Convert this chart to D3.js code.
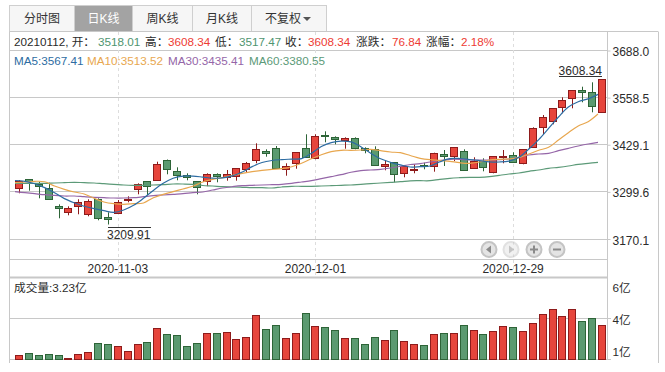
<!DOCTYPE html>
<html>
<head>
<meta charset="utf-8">
<script src="https://cdn.jsdelivr.net/npm/d3@7/dist/d3.min.js"></script>
<style>
html, body { margin: 0; padding: 0; background: #fff; }
svg { display: block; }
text { font-family: "Liberation Sans", "Noto Sans CJK SC", sans-serif; font-size: 11.7px; fill: #2b2b2b; }
</style>
</head>
<body>
<svg id="chart" width="665" height="372"></svg>
<script>
var tabNames = ['分时图', '日K线', '周K线', '月K线', '不复权'];

var dates = ['2020-10-20','2020-10-21','2020-10-22','2020-10-23','2020-10-26','2020-10-27','2020-10-28','2020-10-29','2020-10-30','2020-11-02',
  '2020-11-03','2020-11-04','2020-11-05','2020-11-06','2020-11-09','2020-11-10','2020-11-11','2020-11-12','2020-11-13','2020-11-16',
  '2020-11-17','2020-11-18','2020-11-19','2020-11-20','2020-11-23','2020-11-24','2020-11-25','2020-11-26','2020-11-27','2020-11-30',
  '2020-12-01','2020-12-02','2020-12-03','2020-12-04','2020-12-07','2020-12-08','2020-12-09','2020-12-10','2020-12-11','2020-12-14',
  '2020-12-15','2020-12-16','2020-12-17','2020-12-18','2020-12-21','2020-12-22','2020-12-23','2020-12-24','2020-12-25','2020-12-28',
  '2020-12-29','2020-12-30','2020-12-31','2021-01-04','2021-01-05','2021-01-06','2021-01-07','2021-01-08','2021-01-11','2021-01-12'];

var opens = [3309.4,3334.1,3319.3,3309.4,3259.9,3243.5,3259.9,3238,3279.2,3229.7,
  3240.7,3276.4,3306.6,3328.6,3331.4,3385.8,3356.1,3345.1,3328.6,3328.6,
  3347.9,3339.6,3342.4,3359.7,3385.2,3410,3419.3,3360.5,3376.2,3419.3,
  3391.8,3455,3449.5,3440.2,3446.8,3419.3,3416.5,3369.8,3380.8,3350.6,
  3359.7,3373.4,3369.8,3402.8,3397.3,3411,3364.3,3383.6,3353.4,3395.4,
  3400,3377,3422,3477,3493.5,3532,3556.7,3578.6,3573.2,3518.01];
var highs = [3332.2,3334.1,3327.5,3324.8,3265.4,3259.9,3279.2,3279.2,3281.9,3243.5,
  3277.2,3287.4,3323.1,3328.6,3382.5,3388.5,3367.1,3350.6,3328.6,3350.6,
  3350.6,3359.7,3364.3,3381.7,3433,3416.5,3425.6,3378.1,3408.3,3457.8,
  3457.8,3466,3452.3,3449.5,3449.5,3422,3424.8,3386.3,3380.8,3372.6,
  3375.3,3379.7,3407.2,3414.6,3422,3416.5,3394.6,3391.8,3396.2,3414.6,
  3408.3,3416.5,3477,3510.8,3529.2,3559.4,3578.6,3588.5,3600.6,3608.34];
var lows = [3295.7,3302.8,3281.9,3279.2,3227,3235.2,3238,3232.5,3221.5,3209.91,
  3240.7,3270.9,3292.9,3291,3331.4,3347.9,3331.4,3331.4,3292.9,3315.2,
  3325.9,3330.3,3330.3,3354.2,3378.1,3396.2,3364.3,3344,3363.2,3394.6,
  3389.1,3435.8,3430.3,3418.2,3416.5,3405.6,3372.6,3358.9,3325.9,3339.6,
  3350.6,3361.6,3355,3370.7,3384.4,3358.8,3362.4,3356.1,3350.6,3378.1,
  3380.8,3375.3,3422,3457.8,3485.2,3515.5,3529.2,3545.7,3518.2,3517.47];
var closes = [3327.5,3327.5,3314.9,3279.2,3254.4,3254.4,3270.9,3273.7,3227,3224.2,
  3270.9,3279.2,3320.4,3314.9,3375.3,3361.6,3345.1,3339.6,3312.2,3347.3,
  3341.5,3346.8,3364.3,3378.1,3416.5,3404.5,3364.3,3369.8,3408.3,3394.6,
  3452.3,3451.2,3442.9,3446.8,3419.3,3413.8,3372.6,3375.3,3347.9,3369.8,
  3361.6,3368.7,3405.5,3396.2,3422,3358.8,3383.6,3367.1,3396.2,3397.3,
  3380.8,3416.5,3474.2,3504.5,3529.2,3551.2,3578.6,3573.2,3534.7,3608.34];
var volumes = [0.38,0.57,0.38,0.47,0.38,0.05,0.47,0.66,1.52,1.42,
  1.23,0.76,1.42,1.61,2.94,2.37,2.28,1.23,1.52,2.47,
  2.47,2.56,1.9,2.09,4.18,2.85,3.23,1.99,2.47,4.37,
  3.13,3.04,2.75,1.99,1.99,1.42,2.09,1.8,2.75,1.71,
  1.42,1.33,2.37,2.47,2.47,3.23,2.75,2.37,2.66,3.13,
  3.04,2.66,3.42,4.27,4.75,4.08,4.75,3.61,3.89,3.23];

var ma5 = [3330.8,3328.6,3322,3311.3,3297.3,3281.1,3269.6,3260.2,3253.4,3247.9,
  3243.5,3249.8,3262.7,3281.9,3303.6,3323.1,3336.9,3342.9,3342.9,3340.2,
  3337.2,3338.2,3343.5,3354.2,3369,3380.3,3385.8,3388.2,3389.6,3391,
  3405.6,3424.5,3435,3439.1,3436.9,3423.7,3405.6,3390.4,3380.8,3373.7,
  3367.9,3369,3370.7,3382.2,3391,3391.3,3388.5,3385.5,3382.2,3381.7,
  3384.1,3394.6,3417.4,3443.2,3474,3505.3,3532.8,3547.3,3555,3567.41];
var ma10 = [3324.8,3326.7,3328.6,3327.5,3315.7,3306.6,3299.2,3293.7,3281.9,3271.8,
  3267.1,3265.4,3267.1,3269,3283.6,3292.9,3300.1,3307.5,3314.9,3326.7,
  3334.1,3338.5,3345.1,3350.6,3355,3358.8,3361.6,3363.2,3368.7,3378.1,
  3390.7,3401.7,3410,3413.8,3413.8,3414.6,3416.5,3412.7,3409.1,3407.2,
  3399.5,3391.8,3388,3386.3,3383.6,3379.7,3378.1,3381.7,3387.2,3389.1,
  3389.9,3393.5,3403.6,3413.8,3422,3442.1,3462.2,3480.6,3492.4,3513.52];
var ma30 = [3300.1,3297.3,3294.6,3291.8,3290.2,3288.2,3288.2,3286.3,3284.7,3283.6,
  3282.7,3282.7,3283.6,3286.3,3289.1,3291,3292.9,3294.6,3297.3,3299.2,
  3304.7,3310.2,3313.8,3316.5,3317.6,3318.5,3319.3,3320.4,3323.1,3326.7,
  3330.3,3335.8,3341.3,3346.8,3353.4,3357.8,3359.7,3361.6,3365.2,3369.8,
  3374.8,3377,3381.7,3385.2,3389.1,3389.1,3387.2,3387.2,3387.2,3388,
  3389.9,3394.6,3400.9,3403.6,3405.6,3412.7,3419.3,3425.6,3431.1,3435.41];
var ma60 = [3323.1,3323.1,3323.1,3323.1,3324,3324.8,3325.9,3324.8,3324,3322,
  3320.4,3318.5,3317.6,3317.6,3318.5,3319.3,3321.2,3321.2,3320.4,3317.1,
  3315.7,3313.8,3313,3312.2,3311.1,3311.1,3310.2,3313,3314.9,3314.9,
  3314.9,3315.7,3316.5,3317.6,3318.5,3320.4,3322,3324,3325.9,3327.5,
  3330,3330.3,3330.3,3334.1,3336.9,3338.5,3339.6,3339.6,3341.3,3345.1,
  3348.7,3351.4,3356.1,3359.7,3364.3,3367.1,3370.7,3375.3,3378.1,3380.55];

var priceTicks = [3688.0, 3558.5, 3429.1, 3299.6, 3170.1];
var dateTicks = ['2020-11-03', '2020-12-01', '2020-12-29'];
var volTickLabels = ['6亿', '4亿', '1亿'];
var volGridValue = 3.92;

var infoParts = ['20210112, 开：', '3518.01', '高：', '3608.34', '低：', '3517.47', '收：', '3608.34', '涨跌：', '76.84', '涨幅：', '2.18%'];
var infoKinds = ['k', 'g', 'k', 'r', 'k', 'g', 'k', 'r', 'k', 'r', 'k', 'r'];
var maLabels = ['MA5:3567.41', 'MA10:3513.52', 'MA30:3435.41', 'MA60:3380.55'];

// layout of the text rows
var infoX = [14, 98, 145, 168, 215, 239, 285, 308, 356, 392, 426, 461];
var maLabelX = [14, 87, 168, 249];

var red = '#e6453c', redEdge = '#8e1b1b', green = '#5b9a70', greenEdge = '#2d6437';
var gridColor = '#c8c8c8';
var maColors = ['#2d6ca2', '#e8a74f', '#9566a8', '#5c9a78'];
var infoColors = {k: '#2b2b2b', g: '#4f9570', r: '#ee3b33'};

var left = 9.5, right = 607.5, outer = 658.5;

var svg = d3.select('#chart');

var x = d3.scaleBand().domain(dates).range([14.06, 606.94]);
var y = d3.scaleLinear().domain([3170.1, 3688]).range([239, 50.5]);
var yVol = d3.scaleLinear().domain([0, 1]).range([359.5, 349]);
var yVolLabels = d3.scalePoint().domain(volTickLabels).range([288, 351.5]);

function cx(d) { return Math.round(x(d) + x.bandwidth() / 2); }
function crisp(v) { return Math.round(v - 0.5) + 0.5; }

// tabs
var tabEdges = d3.scaleOrdinal().domain(tabNames).range([9.5, 74.5, 132.5, 192.5, 251.5]);
var tabRight = d3.scaleOrdinal().domain(tabNames).range([74.5, 132.5, 192.5, 251.5, 326.5]);
var tabs = svg.append('g').selectAll('g').data(tabNames).enter().append('g');
tabs.append('rect')
  .attr('x', function(d) { return tabEdges(d); })
  .attr('y', 5.5)
  .attr('width', function(d) { return tabRight(d) - tabEdges(d); })
  .attr('height', 26)
  .attr('fill', function(d) { return d == '日K线' ? '#a3a3a3' : '#f6f6f6'; })
  .attr('stroke', '#cfcfcf');
tabs.append('text')
  .attr('x', function(d) { return (tabEdges(d) + tabRight(d)) / 2 - (d == '不复权' ? 6 : 0); })
  .attr('y', 18.5)
  .attr('dy', '0.35em')
  .attr('text-anchor', 'middle')
  .style('font-size', '12px')
  .style('fill', function(d) { return d == '日K线' ? '#fff' : '#333'; })
  .text(function(d) { return d; });
svg.append('path').attr('d', d3.line()([[303, 17], [311, 17], [307, 21]])).attr('fill', '#555');

// frame
var frame = [
  [left, 32, left, 363], [left, 31.5, outer, 31.5], [right, 32, right, 360], [outer, 32, outer, 363],
  [left, 259.5, right, 259.5], [left, 359.5, 611, 359.5]
];
svg.append('g').selectAll('line').data(frame).enter().append('line')
  .attr('x1', function(d) { return d[0]; }).attr('y1', function(d) { return d[1]; })
  .attr('x2', function(d) { return d[2]; }).attr('y2', function(d) { return d[3]; })
  .attr('stroke', gridColor);
svg.append('line').attr('x1', left).attr('x2', right).attr('y1', 277.5).attr('y2', 277.5)
  .attr('stroke', gridColor).attr('stroke-width', 2);

// price grid
svg.append('g').selectAll('line').data(priceTicks).enter().append('line')
  .attr('x1', left).attr('x2', right)
  .attr('y1', function(d) { return crisp(y(d)); }).attr('y2', function(d) { return crisp(y(d)); })
  .attr('stroke', gridColor);

// date markers
svg.append('g').selectAll('line').data(dateTicks).enter().append('line')
  .attr('x1', function(d) { return cx(d) + 0.5; }).attr('x2', function(d) { return cx(d) + 0.5; })
  .attr('y1', 32).attr('y2', 277)
  .attr('stroke', '#ddd').attr('stroke-dasharray', '3,3');

// price axis
var yAxis = d3.axisRight(y).tickValues(priceTicks).tickFormat(d3.format('.1f')).tickSize(3).tickPadding(2);
var yg = svg.append('g').attr('transform', 'translate(' + right + ',0)').call(yAxis);
yg.select('.domain').remove();
yg.selectAll('line').attr('stroke', gridColor);
yg.selectAll('text').style('font-size', '12px').style('font-family', '"Liberation Sans"').style('fill', '#2b2b2b').attr('dy', '0.42em');

// date axis
var xAxis = d3.axisBottom(x).tickValues(dateTicks).tickSize(0).tickPadding(0);
var xg = svg.append('g').attr('transform', 'translate(0,264)').call(xAxis);
xg.select('.domain').remove();
xg.selectAll('text').style('font-size', '12px').style('font-family', '"Liberation Sans"').style('fill', '#2b2b2b');

// moving averages, each point sits at the left part of its candle
var maLine = d3.line()
  .x(function(d, i) { return x(dates[i]) + x.bandwidth() / 2 - 4; })
  .y(function(d) { return y(d); })
  .curve(d3.curveCatmullRom);

// candles
var idx = d3.range(dates.length);
function isUp(i) { return closes[i] >= opens[i]; }
var candles = svg.append('g').selectAll('g').data(idx).enter().append('g');
candles.append('line')
  .attr('x1', function(i) { return cx(dates[i]) + 0.5; }).attr('x2', function(i) { return cx(dates[i]) + 0.5; })
  .attr('y1', function(i) { return y(highs[i]); }).attr('y2', function(i) { return y(lows[i]); })
  .attr('stroke', function(i) { return isUp(i) ? redEdge : greenEdge; });
candles.append('rect')
  .attr('x', function(i) { return cx(dates[i]) - 3.5; })
  .attr('width', 7)
  .attr('y', function(i) { return crisp(y(Math.max(opens[i], closes[i]))); })
  .attr('height', function(i) { return Math.max(1, crisp(y(Math.min(opens[i], closes[i]))) - crisp(y(Math.max(opens[i], closes[i])))); })
  .attr('fill', function(i) { return isUp(i) ? red : green; })
  .attr('stroke', function(i) { return isUp(i) ? redEdge : greenEdge; });

[ma60, ma30, ma10, ma5].forEach(function(s, k) {
  svg.append('path').datum(s)
    .attr('d', maLine)
    .attr('fill', 'none')
    .attr('stroke', maColors[3 - k])
    .attr('stroke-width', 1.2);
});

// volume
svg.append('line').attr('x1', left).attr('x2', 611)
  .attr('y1', crisp(yVol(volGridValue))).attr('y2', crisp(yVol(volGridValue)))
  .attr('stroke', gridColor);
svg.append('g').selectAll('rect').data(idx).enter().append('rect')
  .attr('x', function(i) { return cx(dates[i]) - 3.5; })
  .attr('width', 7)
  .attr('y', function(i) { return crisp(yVol(volumes[i])); })
  .attr('height', function(i) { return Math.max(0, 359.5 - crisp(yVol(volumes[i]))); })
  .attr('fill', function(i) { return isUp(i) ? red : green; })
  .attr('stroke', function(i) { return isUp(i) ? redEdge : greenEdge; });

svg.append('g').selectAll('text').data(volTickLabels).enter().append('text')
  .attr('x', 612.5)
  .attr('y', function(d) { return yVolLabels(d); })
  .attr('dy', '0.35em')
  .text(function(d) { return d; });
svg.append('text').attr('x', 14).attr('y', 288).attr('dy', '0.35em').text('成交量:3.23亿');

// info rows
svg.append('g').selectAll('text').data(infoParts).enter().append('text')
  .attr('x', function(d, i) { return infoX[i]; })
  .attr('y', 42)
  .attr('dy', '0.35em')
  .style('fill', function(d, i) { return infoColors[infoKinds[i]]; })
  .text(function(d) { return d; });

svg.append('g').selectAll('text').data(maLabels).enter().append('text')
  .attr('x', function(d, i) { return maLabelX[i]; })
  .attr('y', 60.5)
  .attr('dy', '0.35em')
  .style('fill', function(d, i) { return maColors[i]; })
  .text(function(d) { return d; });

// high and low callouts
var hiIdx = d3.maxIndex(highs), loIdx = d3.minIndex(lows);
svg.append('text').attr('x', 602).attr('y', 71).attr('dy', '0.35em').attr('text-anchor', 'end')
  .style('font-size', '12px')
  .text(d3.format('.2f')(highs[hiIdx]));
svg.append('line').attr('x1', 559).attr('x2', 602).attr('y1', 76.5).attr('y2', 76.5).attr('stroke', '#333');
svg.append('text').attr('x', 107).attr('y', 235).attr('dy', '0.35em')
  .style('font-size', '12px')
  .text(d3.format('.2f')(lows[loIdx]));
svg.append('line').attr('x1', 108).attr('x2', 151).attr('y1', 227.5).attr('y2', 227.5).attr('stroke', '#333');

// nav buttons
var navButtons = [
  {cx: 489, name: 'prev', dim: false}, {cx: 511, name: 'next', dim: true},
  {cx: 534, name: 'plus', dim: false}, {cx: 557, name: 'minus', dim: false}
];
var nav = svg.append('g').selectAll('g').data(navButtons).enter().append('g')
  .attr('transform', function(d) { return 'translate(' + d.cx + ',249.5)'; })
  .attr('opacity', function(d) { return d.dim ? 0.5 : 1; });
nav.append('circle').attr('r', 7.5).attr('fill', '#e4e4e4').attr('stroke', '#c4c4c4').attr('stroke-width', 2);
nav.append('path')
  .attr('d', function(d) {
    if (d.name == 'prev') return 'M2,-4L2,4L-3,0Z';
    if (d.name == 'next') return 'M-2,-4L-2,4L3,0Z';
    if (d.name == 'plus') return 'M-4,-1H-1V-4H1V-1H4V1H1V4H-1V1H-4Z';
    return 'M-4,-1H4V1H-4Z';
  })
  .attr('fill', '#8a8a8a');
</script>
</body>
</html>
